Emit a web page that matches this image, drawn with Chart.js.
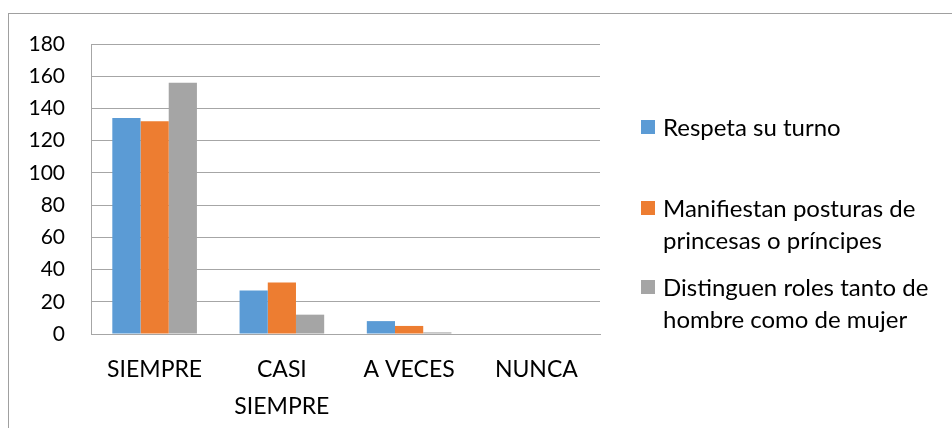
<!DOCTYPE html>
<html>
<head>
<meta charset="utf-8">
<script src="https://cdn.jsdelivr.net/npm/chart.js@4/dist/chart.umd.min.js"></script>
<style>
  html, body { margin: 0; padding: 0; background: #fff; }
  #wrap { position: relative; width: 952px; height: 428px; overflow: hidden; }
  #frame { position: absolute; left: 8px; top: 13px; width: 1000px; height: 500px;
           border-top: 1px solid #a0a0a0; border-left: 1px solid #a0a0a0; box-sizing: border-box; }
  canvas { position: absolute; left: 0; top: 0; }
  .leg { position: absolute; left: 641px; font-family: Lato, sans-serif; font-size: 24px;
         line-height: 32px; color: #000; white-space: nowrap; }
  .leg .sw { position: absolute; left: 0; top: 9px; width: 14px; height: 14px; }
  .leg .tx { position: absolute; left: 22px; top: 0; }
</style>
</head>
<body>
<div id="wrap">
  <div id="frame"></div>
  <canvas id="c" width="952" height="428"></canvas>
  <div id="legend"></div>
</div>
<script>
const categories = ["SIEMPRE", "CASI SIEMPRE", "A VECES", "NUNCA"];
const seriesNames = ["Respeta su turno", "Manifiestan posturas de princesas o príncipes", "Distinguen roles tanto de hombre como de mujer"];
const respetaTurno = [134, 27, 8, 0];
const posturasPrincesas = [132, 32, 5, 0];
const distinguenRoles = [156, 12, 1, 0];
const yTicks = [0, 20, 40, 60, 80, 100, 120, 140, 160, 180];
const legendLines = [["Respeta su turno"], ["Manifiestan posturas de", "princesas o príncipes"], ["Distinguen roles tanto de", "hombre como de mujer"]];

const colors = ["#5B9BD5", "#ED7D31", "#A5A5A5"];
const gridColor = "#a6a6a6";

const chart = new Chart(document.getElementById("c"), {
  type: "bar",
  data: {
    labels: categories,
    datasets: [
      { label: seriesNames[0], data: respetaTurno, backgroundColor: colors[0] },
      { label: seriesNames[1], data: posturasPrincesas, backgroundColor: colors[1] },
      { label: seriesNames[2], data: distinguenRoles, backgroundColor: colors[2] }
    ]
  },
  options: {
    responsive: false,
    animation: false,
    layout: { padding: { top: 44, right: 352, bottom: 0, left: 0 } },
    datasets: { bar: { categoryPercentage: 0.665, barPercentage: 1.0, borderWidth: 0 } },
    plugins: { legend: { display: false }, tooltip: { enabled: false } },
    scales: {
      x: {
        grid: { display: false, drawTicks: false },
        border: { display: true, color: gridColor, width: 1 },
        ticks: {
          color: "#000", padding: 17, maxRotation: 0, autoSkip: false,
          font: { family: "Lato, sans-serif", size: 23, lineHeight: 1.6 },
          callback: function (v) {
            const s = categories[v];
            return s.length > 8 ? s.split(" ") : s;
          }
        },
        afterFit: function (s) { s.height = 94; }
      },
      y: {
        min: 0, max: 180,
        afterBuildTicks: function (s) { s.ticks = yTicks.map(v => ({ value: v })); },
        grid: { color: gridColor, lineWidth: 1, drawTicks: false },
        border: { display: true, color: gridColor, width: 1 },
        ticks: { color: "#000", padding: 26, font: { family: "Lato, sans-serif", size: 21 } },
        afterFit: function (s) { s.width = 91; }
      }
    }
  }
});

const centers = [127, 208, 287];
const legend = document.getElementById("legend");
legendLines.forEach((lines, i) => {
  const d = document.createElement("div");
  d.className = "leg";
  d.style.top = (centers[i] - 16) + "px";
  const sw = document.createElement("div");
  sw.className = "sw";
  sw.style.background = colors[i];
  const tx = document.createElement("div");
  tx.className = "tx";
  tx.innerHTML = lines.join("<br>");
  d.appendChild(sw);
  d.appendChild(tx);
  legend.appendChild(d);
});
</script>
</body>
</html>
